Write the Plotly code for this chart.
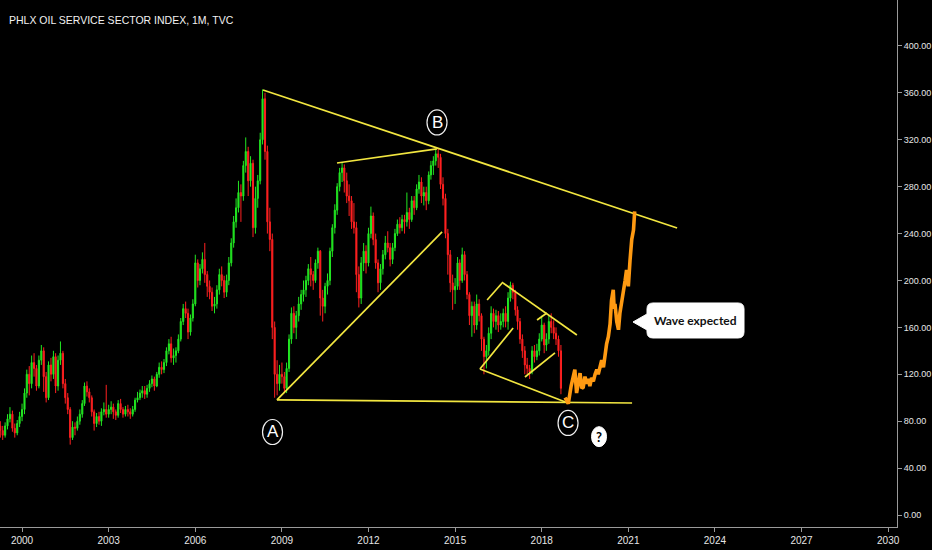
import plotly.graph_objects as go
import pandas as pd
from datetime import datetime, timedelta


def yr(d):
    """decimal year -> ISO date string"""
    y = int(d)
    return (datetime(y, 1, 1) + timedelta(days=(d - y) * 365.25)).strftime("%Y-%m-%d")


# ---------------- monthly OHLC (Apr 1999 .. Sep 2018) ----------------
first_open = 76
close_1999 = [72, 68, 76, 82, 86, 74, 70, 78, 84]
close_2000 = [90, 104, 120, 112, 130, 125, 110, 132, 140, 118, 100, 128]
close_2001 = [120, 135, 110, 132, 138, 112, 100, 90, 66, 75, 74, 80]
close_2002 = [86, 95, 110, 105, 100, 88, 78, 84, 80, 88, 90, 86]
close_2003 = [90, 92, 88, 85, 95, 90, 86, 90, 88, 86, 90, 98]
close_2004 = [100, 104, 106, 103, 108, 112, 116, 110, 120, 126, 124, 130]
close_2005 = [140, 146, 134, 136, 140, 150, 165, 176, 172, 156, 168, 180]
close_2006 = [215, 200, 210, 218, 205, 195, 190, 178, 180, 192, 205, 200]
close_2007 = [190, 200, 215, 232, 250, 262, 275, 272, 298, 310, 285, 300]
close_2008 = [245, 270, 285, 320, 355, 310, 250, 235, 160, 120, 112, 120]
close_2009 = [118, 108, 125, 150, 172, 160, 170, 180, 188, 192, 200, 210]
close_2010 = [205, 200, 215, 225, 185, 178, 195, 200, 225, 245, 260, 280]
close_2011 = [292, 296, 285, 272, 268, 250, 245, 205, 185, 215, 225, 215]
close_2012 = [240, 255, 235, 215, 198, 210, 222, 232, 228, 218, 228, 240]
close_2013 = [248, 245, 252, 250, 258, 252, 268, 262, 278, 284, 272, 275]
close_2014 = [268, 290, 298, 302, 308, 305, 282, 270, 240, 222, 198, 192]
close_2015 = [195, 215, 200, 222, 205, 188, 170, 178, 162, 180, 170, 150]
close_2016 = [135, 140, 155, 172, 165, 170, 162, 165, 172, 165, 185, 196]
close_2017 = [190, 175, 165, 150, 140, 128, 125, 122, 140, 135, 140, 150]
close_2018 = [162, 145, 150, 165, 160, 155, 150, 140, 108]

high_1999 = [80, 76, 79, 86, 92, 89, 78, 81, 88]
high_2000 = [95, 108, 124, 127, 136, 138, 128, 136, 145, 143, 122, 131]
high_2001 = [134, 140, 138, 136, 148, 140, 116, 104, 92, 80, 79, 84]
high_2002 = [90, 98, 113, 114, 108, 102, 90, 87, 88, 91, 96, 111]
high_2003 = [94, 97, 95, 90, 98, 99, 92, 93, 94, 91, 93, 100]
high_2004 = [105, 107, 110, 110, 111, 115, 119, 118, 122, 130, 131, 133]
high_2005 = [143, 150, 152, 142, 143, 154, 168, 180, 182, 176, 171, 184]
high_2006 = [222, 218, 214, 224, 232, 208, 200, 194, 186, 196, 210, 212]
high_2007 = [204, 205, 220, 236, 255, 270, 285, 282, 302, 322, 314, 306]
high_2008 = [303, 280, 290, 326, 363, 360, 315, 262, 240, 165, 132, 128]
high_2009 = [130, 122, 130, 154, 177, 178, 174, 186, 192, 200, 204, 214]
high_2010 = [220, 208, 218, 228, 226, 192, 198, 206, 228, 248, 265, 283]
high_2011 = [296, 301, 299, 292, 282, 272, 266, 250, 212, 220, 232, 230]
high_2012 = [245, 263, 258, 240, 218, 214, 226, 238, 242, 232, 232, 244]
high_2013 = [252, 254, 256, 256, 275, 262, 272, 272, 282, 290, 288, 280]
high_2014 = [280, 293, 302, 306, 312, 313, 308, 288, 274, 244, 226, 205]
high_2015 = [202, 220, 218, 228, 225, 208, 190, 182, 182, 188, 184, 172]
high_2016 = [152, 145, 160, 178, 176, 175, 174, 172, 176, 178, 190, 199]
high_2017 = [198, 192, 178, 168, 154, 144, 134, 128, 144, 145, 146, 155]
high_2018 = [170, 164, 155, 170, 172, 166, 160, 153, 145]

low_1999 = [66, 64, 66, 73, 79, 71, 66, 68, 75]
low_2000 = [80, 86, 100, 102, 108, 118, 106, 108, 128, 105, 96, 98]
low_2001 = [114, 116, 104, 106, 128, 108, 95, 86, 60, 64, 68, 72]
low_2002 = [77, 83, 93, 101, 96, 84, 72, 75, 77, 76, 85, 83]
low_2003 = [83, 86, 82, 81, 83, 87, 83, 84, 84, 82, 84, 88]
low_2004 = [96, 98, 100, 99, 100, 105, 109, 106, 109, 117, 120, 121]
low_2005 = [127, 137, 130, 128, 130, 138, 148, 162, 168, 150, 153, 165]
low_2006 = [178, 194, 196, 206, 198, 186, 184, 174, 172, 176, 188, 195]
low_2007 = [185, 186, 196, 212, 228, 245, 258, 250, 268, 292, 272, 280]
low_2008 = [237, 240, 262, 282, 316, 303, 240, 225, 150, 100, 102, 106]
low_2009 = [112, 104, 104, 122, 146, 155, 150, 165, 175, 182, 186, 196]
low_2010 = [195, 192, 198, 210, 170, 165, 172, 188, 196, 220, 240, 256]
low_2011 = [276, 284, 275, 266, 255, 244, 240, 190, 177, 180, 208, 206]
low_2012 = [212, 236, 230, 210, 190, 192, 205, 218, 224, 212, 214, 225]
low_2013 = [238, 240, 242, 240, 246, 244, 250, 256, 260, 274, 266, 264]
low_2014 = [260, 265, 286, 290, 298, 296, 278, 264, 236, 205, 190, 175]
low_2015 = [180, 192, 192, 198, 200, 184, 162, 152, 155, 158, 165, 140]
low_2016 = [120, 125, 136, 150, 160, 158, 156, 158, 160, 160, 158, 182]
low_2017 = [184, 170, 158, 146, 134, 120, 120, 116, 120, 130, 132, 136]
low_2018 = [148, 138, 140, 146, 155, 150, 145, 135, 103]

closes = (close_1999 + close_2000 + close_2001 + close_2002 + close_2003 + close_2004 +
          close_2005 + close_2006 + close_2007 + close_2008 + close_2009 + close_2010 +
          close_2011 + close_2012 + close_2013 + close_2014 + close_2015 + close_2016 +
          close_2017 + close_2018)
highs = (high_1999 + high_2000 + high_2001 + high_2002 + high_2003 + high_2004 +
         high_2005 + high_2006 + high_2007 + high_2008 + high_2009 + high_2010 +
         high_2011 + high_2012 + high_2013 + high_2014 + high_2015 + high_2016 +
         high_2017 + high_2018)
lows = (low_1999 + low_2000 + low_2001 + low_2002 + low_2003 + low_2004 +
        low_2005 + low_2006 + low_2007 + low_2008 + low_2009 + low_2010 +
        low_2011 + low_2012 + low_2013 + low_2014 + low_2015 + low_2016 +
        low_2017 + low_2018)
opens = [first_open] + closes[:-1]
months = pd.date_range("1999-04-01", periods=len(closes), freq="MS")

# ---------------- projected path (orange) ----------------
proj_years = [2018.81, 2018.92, 2019.02, 2019.09, 2019.15, 2019.21, 2019.28, 2019.33,
              2019.39, 2019.44, 2019.50, 2019.56, 2019.62, 2019.67, 2019.73, 2019.79,
              2019.85, 2019.91, 2019.96, 2020.02, 2020.08, 2020.14, 2020.19, 2020.25,
              2020.31, 2020.37, 2020.42, 2020.48, 2020.51, 2020.54, 2020.60, 2020.66,
              2020.71, 2020.77, 2020.83, 2020.89, 2020.94, 2021.00, 2021.06, 2021.12,
              2021.18, 2021.22]
proj_values = [100, 95, 110, 118, 124, 104, 112, 121, 108, 109, 118, 112, 116, 110, 117,
               114, 120, 124, 120, 127, 132, 126, 138, 146, 152, 163, 183, 192, 176, 180,
               165, 158, 172, 180, 189, 200, 209, 195, 217, 235, 243, 259]

# ---------------- drawn trend lines (yellow) ----------------
seg_start_year = [2008.35, 2010.91, 2008.83, 2008.83, 2015.86, 2015.86, 2016.11, 2016.66, 2017.42, 2017.84]
seg_start_val = [362.5, 300.2, 98.1, 98.1, 124.5, 124.5, 183.4, 197.9, 117.7, 166.3]
seg_end_year = [2022.69, 2014.37, 2014.55, 2021.13, 2018.91, 2017.01, 2016.66, 2019.22, 2018.46, 2018.18]
seg_end_val = [244.8, 312.2, 241.4, 95.5, 95.5, 159.5, 198.7, 153.5, 138.2, 172.3]

# ---------------- wave labels ----------------
wave_labels = ["A", "B", "C"]
wave_years = [2008.677, 2014.375, 2018.912]
wave_vals = [70.8, 334.8, 78.5]
q_year, q_val = 2019.986, 66.8
callout_text = "Wave expected"
callout_tip = (2021.164, 164.6)
callout_text_pos = (2023.33, 165.9)

y_ticks = [0, 40, 80, 120, 160, 200, 240, 280, 320, 360, 400]
title_text = "PHLX OIL SERVICE SECTOR INDEX, 1M, TVC"

GREEN = "#22e622"
RED = "#ff2020"
YELLOW = "#f2e640"
ORANGE = "#ff9a12"
AXIS = "#9a9a9a"
LABEL = "#e6e6e6"
NARROW = "Liberation Sans Narrow, Arial Narrow, Liberation Sans, Arial, sans-serif"

fig = go.Figure()

fig.add_trace(go.Candlestick(
    x=months, open=opens, high=highs, low=lows, close=closes,
    increasing=dict(line=dict(color=GREEN, width=1), fillcolor=GREEN),
    decreasing=dict(line=dict(color=RED, width=1), fillcolor=RED),
    whiskerwidth=0, showlegend=False, hoverinfo="skip",
))

seg_x, seg_y = [], []
for a, b, c, d in zip(seg_start_year, seg_start_val, seg_end_year, seg_end_val):
    seg_x += [yr(a), yr(c), None]
    seg_y += [b, d, None]
fig.add_trace(go.Scatter(x=seg_x, y=seg_y, mode="lines",
                         line=dict(color=YELLOW, width=1.7),
                         showlegend=False, hoverinfo="skip"))

fig.add_trace(go.Scatter(x=[yr(v) for v in proj_years], y=proj_values, mode="lines",
                         line=dict(color=ORANGE, width=3.6),
                         showlegend=False, hoverinfo="skip"))

shapes = []
annotations = []
for lab, wy, wv in zip(wave_labels, wave_years, wave_vals):
    shapes.append(dict(type="circle", xref="x", yref="y",
                       xsizemode="pixel", ysizemode="pixel",
                       xanchor=yr(wy), yanchor=wv,
                       x0=-10, x1=10, y0=-12.5, y1=12.5,
                       line=dict(color="#f0f0f0", width=1.2), fillcolor="rgba(0,0,0,0)"))
    annotations.append(dict(x=yr(wy), y=wv, xref="x", yref="y", text=lab, showarrow=False,
                            font=dict(family=NARROW, size=17, color="#ffffff"),
                            xanchor="center", yanchor="middle"))

shapes.append(dict(type="circle", xref="x", yref="y",
                   xsizemode="pixel", ysizemode="pixel",
                   xanchor=yr(q_year), yanchor=q_val,
                   x0=-7.5, x1=7.5, y0=-10, y1=10,
                   line=dict(color="#ffffff", width=1), fillcolor="#ffffff"))
annotations.append(dict(x=yr(q_year), y=q_val, xref="x", yref="y", text="<b>?</b>",
                        showarrow=False, font=dict(family="Lato, sans-serif", size=13, color="#000000"),
                        xanchor="center", yanchor="middle"))

# callout bubble (pixel path anchored at the tip)
callout_path = ("M 0,0 L 14,8 L 14,13 Q 14,19 20,19 L 105,19 Q 111,19 111,13 "
                "L 111,-10 Q 111,-16 105,-16 L 20,-16 Q 14,-16 14,-10 L 14,-8 Z")
shapes.append(dict(type="path", xref="x", yref="y",
                   xsizemode="pixel", ysizemode="pixel",
                   xanchor=yr(callout_tip[0]), yanchor=callout_tip[1],
                   path=callout_path, fillcolor="#ffffff",
                   line=dict(color="#ffffff", width=1)))
annotations.append(dict(x=yr(callout_text_pos[0]), y=callout_text_pos[1], xref="x", yref="y",
                        text="<b>" + callout_text + "</b>", showarrow=False,
                        font=dict(family="Lato, sans-serif", size=12, color="#111111"),
                        xanchor="center", yanchor="middle"))

annotations.append(dict(x=7 / 897, y=1 - 20 / 527, xref="paper", yref="paper",
                        text=title_text, showarrow=False, xanchor="left", yanchor="middle",
                        font=dict(family=NARROW, size=10.5, color="#f2f2f2")))

fig.update_layout(
    width=932, height=550,
    margin=dict(l=0, r=35, t=0, b=23),
    paper_bgcolor="#000000", plot_bgcolor="#000000",
    shapes=shapes, annotations=annotations,
    showlegend=False,
    xaxis=dict(
        type="date", range=["1999-03-28", "2030-04-23"],
        rangeslider=dict(visible=False),
        tick0="2000-01-01", dtick="M36", tickformat="%Y",
        showgrid=False, zeroline=False,
        showline=True, linecolor=AXIS, linewidth=1,
        ticks="outside", ticklen=4, tickcolor=AXIS,
        tickfont=dict(family=NARROW, size=10, color=LABEL),
    ),
    yaxis=dict(
        side="right", range=[-10.23, 439.2],
        tickvals=y_ticks, ticktext=[f"{v:.2f}" for v in y_ticks],
        showgrid=False, zeroline=False,
        showline=True, linecolor=AXIS, linewidth=1,
        ticks="outside", ticklen=4, tickcolor=AXIS,
        tickfont=dict(family=NARROW, size=9, color=LABEL),
    ),
)

fig.write_html("out.html",
               config={"displayModeBar": False},
               post_script="document.body.style.margin='0px';document.body.style.overflow='hidden';")
